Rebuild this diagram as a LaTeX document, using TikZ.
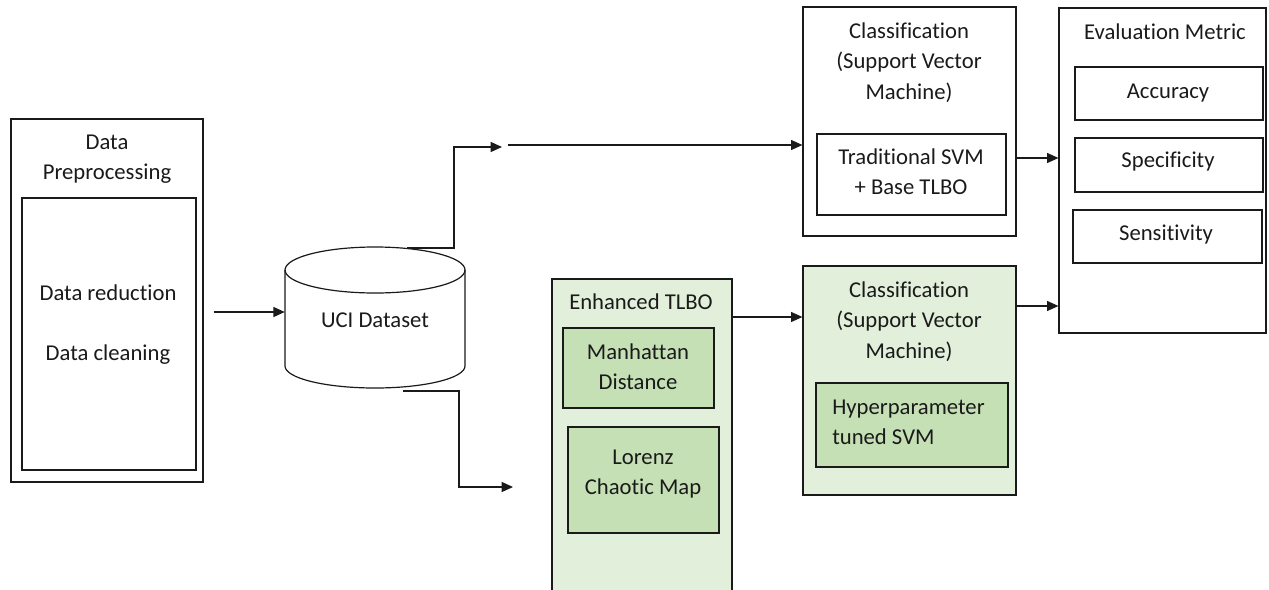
\documentclass[tikz,border=0pt]{standalone}
\usepackage{fontspec}
\setmainfont{Carlito}[Ligatures=NoCommon]
\usetikzlibrary{arrows.meta,fit,calc}
\definecolor{lightgreen}{HTML}{E2EFDA}
\definecolor{midgreen}{HTML}{C5E0B4}
\definecolor{ink}{HTML}{1A1A1A}
% strut that fixes the height of the first text line
\newcommand\lnhead{\rule{0pt}{13pt}}
\begin{document}
\begin{tikzpicture}[x=0.75pt,y=-0.75pt,
  box/.style={draw=ink,line width=0.9pt,inner sep=0pt},
  lbl/.style={anchor=north,inner sep=0pt,align=center,text=ink,
    font=\fontsize{17}{22.75}\selectfont},
  arr/.style={draw=ink,line width=0.9pt,-{Triangle[length=8.5pt,width=7.5pt]}}]
\useasboundingbox (0,0) rectangle (1269,589);

% data preprocessing block
\node[box,fit={(11,119)(203,482)}] (pre) {};
\node[box,fit={(22,198)(196,470)}] (prein) {};
\node[lbl] (preT) at (107,132) {\lnhead Data\\Preprocessing};
\node[lbl] (red) at (108,283) {\lnhead Data reduction};
\node[lbl] (cln) at (108,343) {\lnhead Data cleaning};

% dataset cylinder
\path[draw=ink,line width=0.9pt,fill=white] (285,270) -- (285,366)
  arc[start angle=180,end angle=360,x radius=67.5pt,y radius=16.5pt] -- (465,270);
\draw[ink,line width=0.9pt] (375,270) ellipse[x radius=67.5pt,y radius=17.25pt];
\node[inner sep=0pt,fit={(285,247)(465,388)}] (uci) {};
\node[lbl] (uciT) at (375,310) {\lnhead UCI Dataset};

% enhanced TLBO block
\node[box,fill=lightgreen,fit={(552,279)(732,600)}] (etlbo) {};
\node[lbl] (etT) at (641,292) {\lnhead Enhanced TLBO};
\node[box,fill=midgreen,fit={(563,328)(714,408)}] (manh) {};
\node[lbl] (manhT) at (638,342) {\lnhead Manhattan\\Distance};
\node[box,fill=midgreen,fit={(568,427)(719,533)}] (lor) {};
\node[lbl] (lorT) at (643,447) {\lnhead Lorenz\\Chaotic Map};

% baseline classifier
\node[box,fit={(803,7)(1016,236)}] (cls1) {};
\node[lbl] (cls1T) at (909,21) {\lnhead Classification\\(Support Vector\\Machine)};
\node[box,fit={(817,134)(1006,215)}] (trad) {};
\node[lbl] (tradT) at (911,147) {\lnhead Traditional SVM\\+ Base TLBO};

% tuned classifier
\node[box,fill=lightgreen,fit={(803,266)(1016,495)}] (cls2) {};
\node[lbl] (cls2T) at (909,280) {\lnhead Classification\\(Support Vector\\Machine)};
\node[box,fill=midgreen,fit={(816,383)(1008,467)}] (hyp) {};
\node[lbl,anchor=north west,align=left] (hypT) at (832,397) {\lnhead Hyperparameter\\tuned SVM};

% evaluation block
\node[box,fit={(1059,8)(1266,333)}] (eval) {};
\node[lbl] (evalT) at (1165,22) {\lnhead Evaluation Metric};
\node[box,fit={(1075,67)(1263,120)}] (acc) {};
\node[lbl] (accT) at (1168,81) {\lnhead Accuracy};
\node[box,fit={(1075,138)(1263,192)}] (spec) {};
\node[lbl] (specT) at (1168,150) {\lnhead Specificity};
\node[box,fit={(1073,210)(1262,263)}] (sens) {};
\node[lbl] (sensT) at (1166,223) {\lnhead Sensitivity};

% connectors
\coordinate (uciTop) at (407,248);
\coordinate (split) at (502,147);
\coordinate (rejoin) at (508,145);
\coordinate (uciBot) at (403,391);
\coordinate (toEt) at (513,487);

\draw[arr] ([xshift=7.5pt]pre.east |- 0,312) -- (uci.west |- 0,312);
\draw[arr] (uciTop) -- ++(47,0) |- (split);
\draw[arr] (rejoin) -- (rejoin -| cls1.west);
\draw[arr] (uciBot) -- ++(56,0) |- (toEt);
\draw[arr] (etlbo.east |- 0,317) -- (cls2.west |- 0,317);
\draw[arr] (cls1.east |- 0,158) -- (eval.west |- 0,158);
\draw[arr] (cls2.east |- 0,306) -- (eval.west |- 0,306);
\end{tikzpicture}
\end{document}
